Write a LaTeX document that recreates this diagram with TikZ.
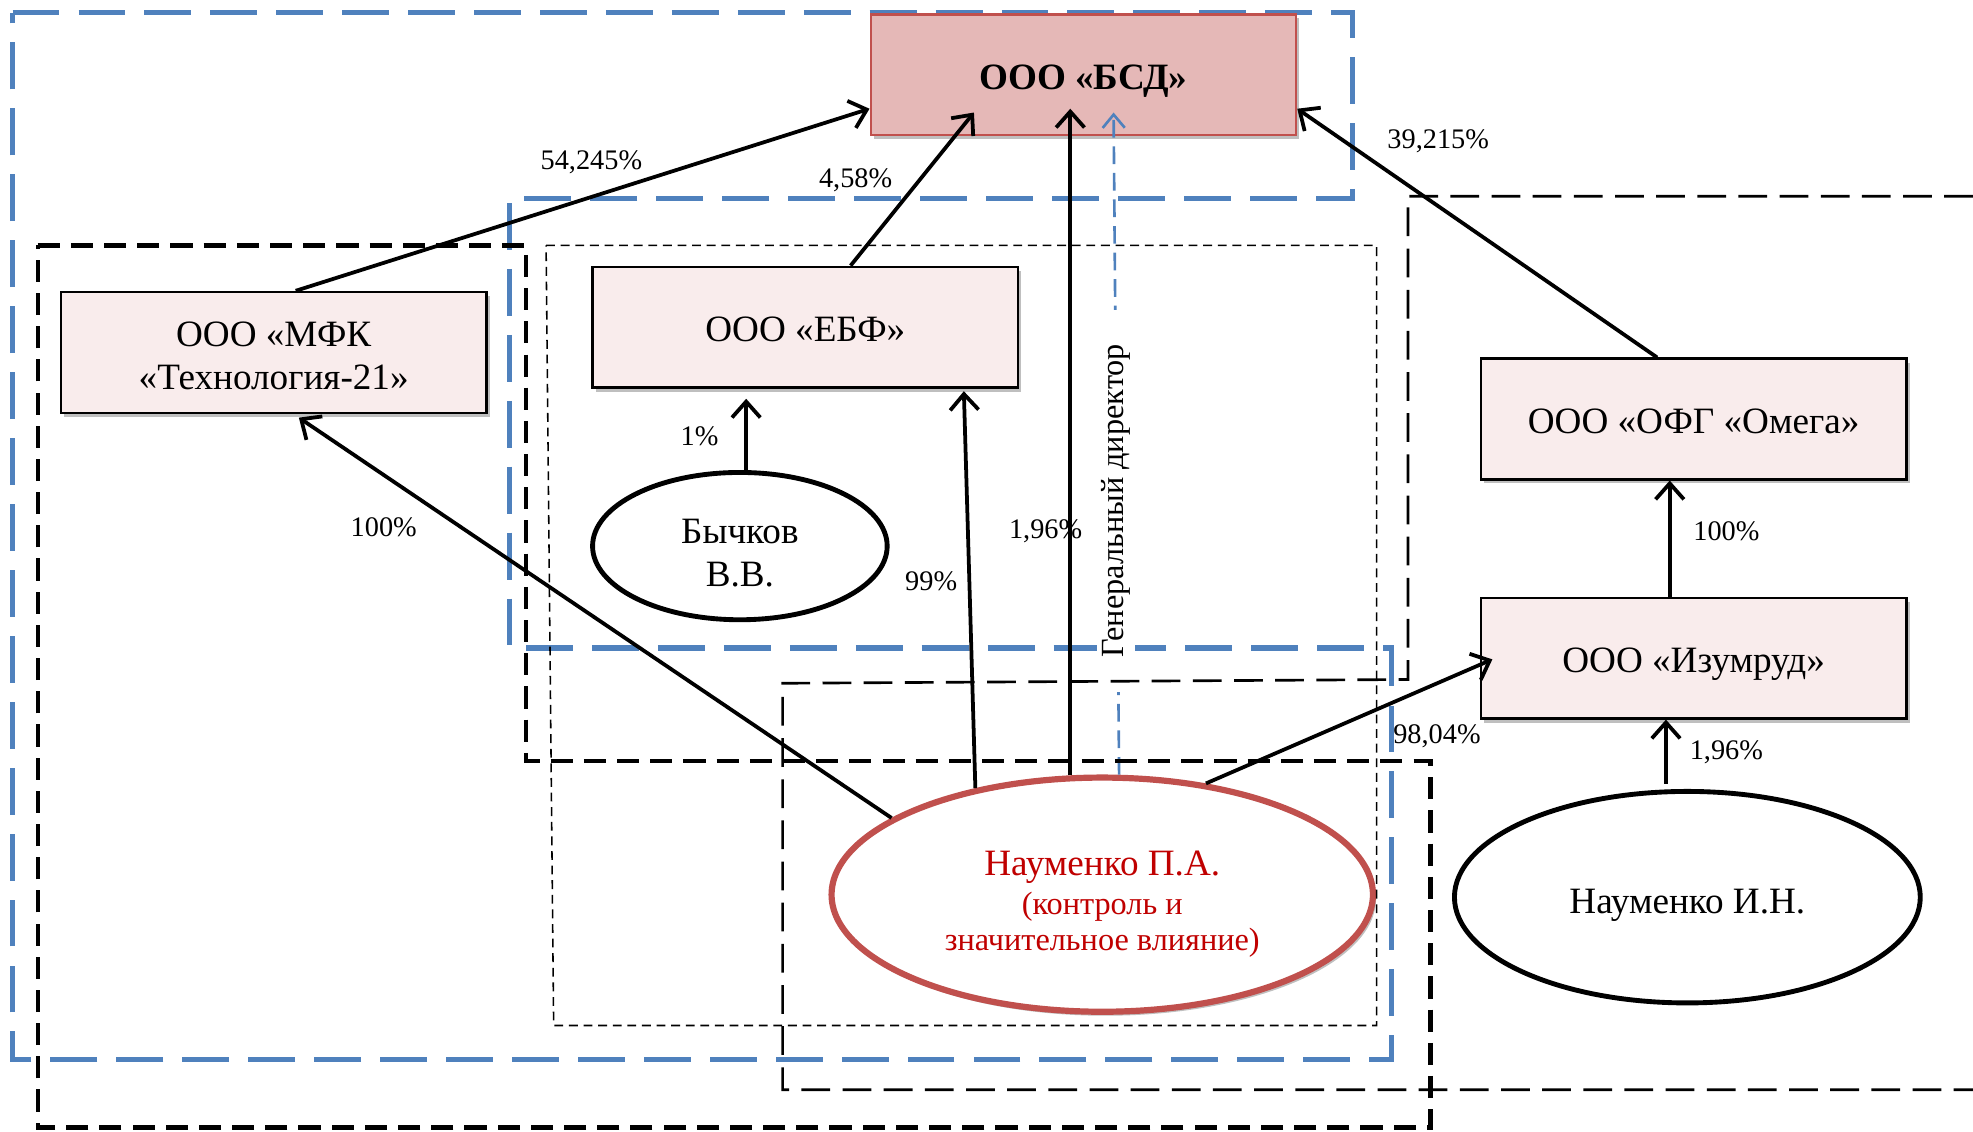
\documentclass[tikz,border=0pt]{standalone}
\usepackage{fontspec}
\setmainfont{Liberation Serif}
\usetikzlibrary{arrows.meta,calc,shapes.geometric,shadows}
\definecolor{boxpink}{RGB}{249,236,236}
\definecolor{bsdfill}{RGB}{229,184,183}
\definecolor{bsdline}{RGB}{192,80,77}
\definecolor{regblue}{RGB}{79,129,189}
\definecolor{pared}{RGB}{192,0,0}
\newcommand{\szmain}{\fontsize{8.4}{9.7}\selectfont}
\newcommand{\szpct}{\fontsize{6.4}{7.5}\selectfont}
\newcommand{\szsmall}{\fontsize{7.3}{8.2}\selectfont}
\begin{document}
\begin{tikzpicture}[x=0.01cm, y=-0.01cm,
  shad/.style={drop shadow={shadow xshift=0.7pt, shadow yshift=-0.9pt, opacity=0.25, fill=black}},
  box/.style={draw=black, line width=0.5pt, fill=boxpink, minimum width=3.38cm, minimum height=0.96cm, align=center, inner sep=1pt, font=\szmain, shad},
  oneline/.style={text height=6.6pt, text depth=0pt},
  bsdbox/.style={box, draw=bsdline, fill=bsdfill},
  pers/.style={ellipse, draw=black, line width=1.1pt, fill=white, align=center, inner sep=0pt, font=\szmain},
  persred/.style={ellipse, draw=bsdline, line width=1.4pt, fill=white, align=center, inner sep=0pt, text=pared, font=\szsmall, shad},
  pct/.style={font=\szpct, inner sep=0pt},
  arr/.style={line width=0.85pt, -{Straight Barb[length=3.6pt,width=6.4pt]}},
  bluearr/.style={regblue, line width=0.6pt, dash pattern=on 4pt off 2pt, -{Straight Barb[length=3pt,width=5pt]}},
  bluereg/.style={regblue, line width=1.2pt, dash pattern=on 10.6pt off 4.3pt},
  blackreg/.style={black, line width=1pt, dash pattern=on 5pt off 2.5pt},
  medreg/.style={black, line width=0.6pt, dash pattern=on 6.5pt off 2.8pt},
  thinreg/.style={black, line width=0.35pt, dash pattern=on 2pt off 1.3pt},
  gdlabel/.style={rotate=90, fill=white, font=\fontsize{7.3}{9}\selectfont, inner xsep=0.27cm, inner ysep=1pt}
]
\useasboundingbox (0,0) rectangle (1568,899);

% blue dashed region
\draw[bluereg] (10,10) -- (1075,10) -- (1075,158) -- (405,158) -- (405,515) -- (1106,515) -- (1106,842) -- (10,842) -- cycle;

% nodes
\node[bsdbox, oneline] (bsd) at (861,59.5) {\textbf{ООО «БСД»}};
\node[box] (mfk) at (217.5,280) {\rule{0pt}{7pt}ООО «МФК\\«Технология-21»};
\node[box, oneline] (ebf) at (640,260) {ООО «ЕБФ»};
\node[box, oneline] (omega) at (1346,333) {ООО «ОФГ «Омега»};
\node[box, oneline] (izum) at (1346,523) {ООО «Изумруд»};
\node[pers, minimum width=2.34cm, minimum height=1.17cm] (by) at (588,434) {\rule{0pt}{8.6pt}Бычков\\В.В.};
\node[persred, minimum width=4.3cm, minimum height=1.86cm] (pa) at (876,711)
  {{\szmain\rule{0pt}{10pt}Науменко П.А.}\\[0.5pt]{(контроль и}\\{значительное влияние)}};
\node[pers, text height=7.2pt, text depth=0pt, minimum width=3.7cm, minimum height=1.68cm] (nin) at (1341,713) {Науменко И.Н.};

% connectors
\draw[arr] ($(mfk.north)+(17.5,0)$) -- ($(bsd.south west)+(0,-22)$);
\draw[arr] ($(ebf.north)+(36,0)$) -- ($(bsd.south west)+(83,-19)$);
\draw[arr] (pa.105.7) -- ($(pa.105.7 |- bsd.south)+(0,-22)$);
\draw[arr] ($(omega.north)+(-29,0)$) -- ($(bsd.south east)+(0,-22)$);
\draw[arr] (pa.160.6) -- ($(mfk.south)+(20,3)$);
\draw[arr] (pa.140) -- ($(ebf.south)+(126,2)$);
\draw[arr] ($(by.north)+(5,1)$) -- ($(ebf.south)+(-47,8)$);
\draw[arr] (pa.47.5) -- ($(izum.west)+(10,1)$);
\draw[arr] ($(izum.north)+(-19,0)$) -- ($(omega.south)+(-19,0)$);
\draw[arr] ($(nin.north)+(-17,-4)$) -- ($(izum.south)+(-22,0)$);
\draw[bluearr] (pa.82.7) -- ($(bsd.south)+(24,-19)$);

% rotated label over the blue line
\node[gdlabel] (gd) at (887,398) {Генеральный директор};

% black dashed regions
\draw[blackreg] (30,195) -- (418,195) -- (418,605) -- (1137,605) -- (1137,896) -- (30,896) -- cycle;
\draw[medreg] (1568,156) -- (1119,156) -- (1119,540) -- (622,543) -- (622,866) -- (1568,866);
\draw[thinreg] (434,195) -- (1094,195) -- (1094,815) -- (440,815) -- cycle;

% percentage labels
\node[pct] (l1) at (470,129) {54,245\%};
\node[pct] (l2) at (680,143) {4,58\%};
\node[pct] (l3) at (556,347) {1\%};
\node[pct] (l4) at (305,419) {100\%};
\node[pct] (l5) at (740,462) {99\%};
\node[pct] (l6) at (831,422) {1,96\%};
\node[pct] (l7) at (1143,112) {39,215\%};
\node[pct] (l8) at (1372,422) {100\%};
\node[pct] (l9) at (1142,585) {98,04\%};
\node[pct] (l10) at (1372,598) {1,96\%};
\end{tikzpicture}
\end{document}
